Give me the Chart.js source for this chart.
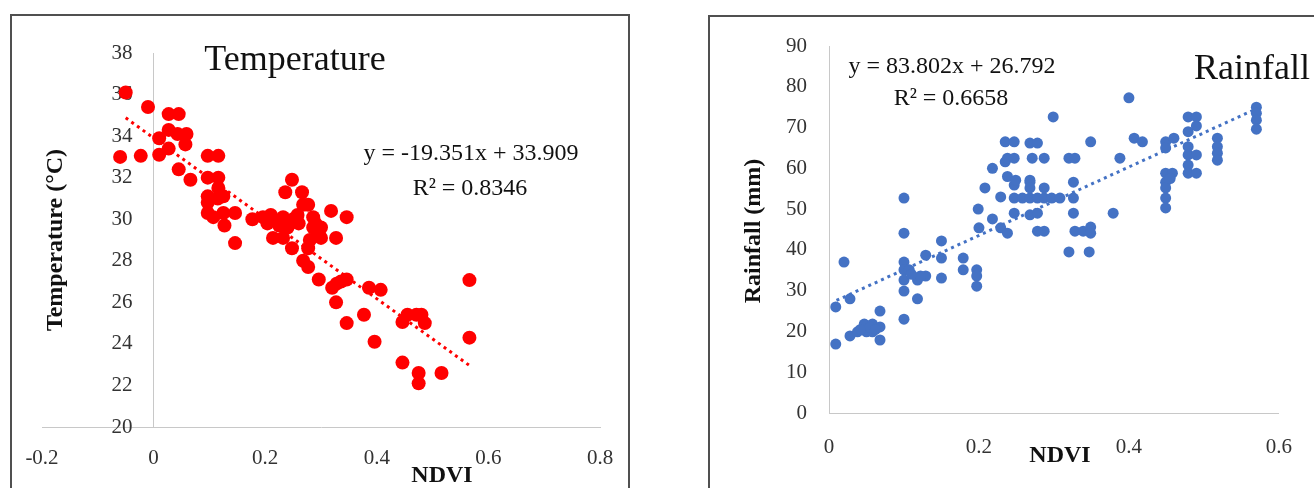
<!DOCTYPE html>
<html>
<head>
<meta charset="utf-8">
<script src="https://cdn.jsdelivr.net/npm/chart.js@4.4.1/dist/chart.umd.min.js"></script>
<style>
body { margin: 0; width: 1314px; height: 488px; background: #fff; overflow: hidden; position: relative; }
.box { position: absolute; border: 2px solid #505050; box-sizing: border-box; }
.wrap { position: absolute; top: 0; height: 488px; }
</style>
</head>
<body>
<div class="box" style="left:10px;top:14px;width:620px;height:500px"></div>
<div class="box" style="left:708px;top:15px;width:640px;height:500px"></div>
<div class="wrap" style="left:0;width:660px"><canvas id="temp-chart"></canvas></div>
<div class="wrap" style="left:700px;width:614px"><canvas id="rain-chart"></canvas></div>
<script>
// NDVI vs temperature (red points)
const tempNdvi = [-0.06, -0.05, -0.01, -0.023, 0.01, 0.01, 0.027, 0.045, 0.027, 0.043,
  0.059, 0.057, 0.027, 0.045, 0.066, 0.097, 0.116, 0.097, 0.116, 0.097,
  0.097, 0.116, 0.125, 0.097, 0.107, 0.125, 0.127, 0.146, 0.146, 0.177,
  0.196, 0.204, 0.218, 0.232, 0.236, 0.248, 0.214, 0.232, 0.266, 0.268,
  0.277, 0.318, 0.346, 0.286, 0.286, 0.248, 0.277, 0.28, 0.30, 0.327,
  0.295, 0.268, 0.277, 0.296, 0.32, 0.328, 0.346, 0.327, 0.566, 0.566,
  0.346, 0.377, 0.386, 0.407, 0.396, 0.446, 0.455, 0.471, 0.48, 0.486,
  0.446, 0.475, 0.475, 0.516, 0.336, 0.258, 0.26, 0.29, 0.30, 0.25,
  0.24, 0.21, 0.225, 0.115];
const tempValues = [33.0, 36.1, 35.4, 33.05, 33.9, 33.1, 35.06, 35.06, 34.3, 34.1,
  34.1, 33.6, 33.4, 32.4, 31.9, 33.05, 33.05, 32.0, 32.0, 31.1,
  30.8, 31.5, 31.1, 30.3, 30.1, 30.3, 29.7, 30.3, 28.85, 30.0,
  30.1, 29.8, 29.95, 30.1, 31.3, 31.9, 29.1, 29.1, 31.3, 30.7,
  30.7, 30.4, 30.1, 30.1, 29.6, 28.6, 28.6, 29.0, 29.1, 29.1,
  29.3, 28.0, 27.7, 27.1, 26.7, 26.9, 27.1, 26.0, 27.07, 24.3,
  25.0, 25.4, 26.7, 26.6, 24.1, 25.05, 25.4, 25.4, 25.4, 25.0,
  23.1, 22.6, 22.1, 22.6, 27.0, 30.2, 29.8, 29.8, 29.6, 30.0,
  29.6, 30.2, 29.7, 31.0];
const tempTrendX = [-0.05, 0.565];
const tempTrendY = [34.88, 22.98];
const tempTicksX = [-0.2, 0, 0.2, 0.4, 0.6, 0.8];
const tempTicksY = [20, 22, 24, 26, 28, 30, 32, 34, 36, 38];

// NDVI vs rainfall (blue points)
const rainNdvi = [0.009, 0.009, 0.02, 0.028, 0.028, 0.038, 0.047, 0.05, 0.058, 0.058,
  0.068, 0.068, 0.068, 0.042, 0.055, 0.062,
  0.1, 0.1, 0.1, 0.1, 0.1, 0.1, 0.1, 0.107, 0.118, 0.118,
  0.129, 0.129, 0.122, 0.11, 0.15, 0.15, 0.15, 0.179, 0.179, 0.197,
  0.197, 0.197, 0.199, 0.2, 0.208, 0.218, 0.218, 0.229, 0.229, 0.238,
  0.235, 0.235, 0.238, 0.247, 0.247, 0.249, 0.268, 0.268, 0.247, 0.268,
  0.278, 0.238, 0.247, 0.271, 0.287, 0.32, 0.328, 0.349, 0.299, 0.388,
  0.4, 0.407, 0.418,
  0.247, 0.258, 0.268, 0.278, 0.287, 0.297, 0.308, 0.326,
  0.268, 0.287, 0.268, 0.278, 0.287, 0.278, 0.326, 0.326, 0.379, 0.32,
  0.347, 0.328, 0.339, 0.349, 0.349,
  0.449, 0.46, 0.449, 0.479, 0.49, 0.479, 0.49, 0.479, 0.479, 0.49,
  0.479, 0.479, 0.49, 0.518, 0.518, 0.518, 0.518, 0.57, 0.57, 0.57,
  0.57, 0.449, 0.458, 0.449, 0.449, 0.449, 0.449, 0.455];
const rainValues = [26.0, 16.9, 37.0, 28.0, 18.9, 19.9, 21.8, 19.9, 21.8, 19.9,
  21.1, 25.0, 17.9, 20.5, 21.0, 20.5,
  52.7, 44.1, 37.0, 35.1, 32.6, 29.9, 23.0, 35.1, 32.6, 28.0,
  38.7, 33.6, 33.6, 34.0, 42.2, 38.0, 33.1, 38.0, 35.1, 35.1,
  33.6, 31.1, 50.0, 45.4, 55.2, 60.0, 47.6, 53.0, 45.4, 44.1,
  66.5, 61.6, 58.0, 55.9, 49.0, 57.1, 48.6, 57.1, 66.5, 66.2,
  66.2, 62.5, 62.5, 62.5, 62.5, 62.5, 62.5, 66.5, 72.6, 62.5,
  77.3, 67.4, 66.5,
  52.7, 52.7, 52.7, 52.7, 52.7, 52.7, 52.7, 52.7,
  56.6, 55.2, 55.2, 49.0, 44.6, 44.6, 56.6, 49.0, 49.0, 39.5,
  39.5, 44.6, 44.6, 45.6, 44.1,
  66.5, 67.4, 65.0, 72.6, 72.6, 69.0, 70.4, 65.3, 63.3, 63.3,
  60.8, 58.8, 58.8, 67.4, 65.3, 63.7, 62.0, 75.0, 73.5, 71.8,
  69.6, 58.8, 58.8, 56.6, 55.2, 52.7, 50.3, 57.5];
const rainTrendX = [0.01, 0.57];
const rainTrendY = [27.6, 74.6];
const rainTicksX = [0, 0.2, 0.4, 0.6];
const rainTicksY = [0, 10, 20, 30, 40, 50, 60, 70, 80, 90];

const pairs = (xs, ys) => xs.map((x, i) => ({ x: x, y: ys[i] }));
const serif = "'Liberation Serif', 'DejaVu Serif', serif";

// draws free text (chart title, equation, axis titles)
const notesPlugin = {
  id: 'notes',
  afterDraw(chart, args, opts) {
    const ctx = chart.ctx;
    (opts.items || []).forEach(it => {
      ctx.save();
      ctx.font = it.font;
      ctx.fillStyle = it.color || '#111';
      ctx.textAlign = 'center';
      ctx.textBaseline = 'alphabetic';
      ctx.translate(it.x, it.y);
      if (it.rotate) ctx.rotate(it.rotate);
      ctx.fillText(it.text, 0, 0);
      ctx.restore();
    });
  }
};

const fixedTicks = list => axis => { axis.ticks = list.map(v => ({ value: v })); };

new Chart(document.getElementById('temp-chart'), {
  type: 'scatter',
  data: {
    datasets: [{
      label: 'Temperature',
      data: pairs(tempNdvi, tempValues),
      backgroundColor: '#ff0000',
      borderWidth: 0,
      pointRadius: 7,
      pointHoverRadius: 7
    }, {
      label: 'Trend',
      data: pairs(tempTrendX, tempTrendY),
      showLine: true,
      pointRadius: 0,
      borderColor: '#ff0000',
      borderWidth: 3,
      borderDash: [3, 4]
    }]
  },
  options: {
    responsive: true,
    maintainAspectRatio: false,
    animation: false,
    layout: { padding: { left: 42, right: 60, top: 53, bottom: 21 } },
    plugins: {
      legend: { display: false },
      tooltip: { enabled: false },
      notes: {
        items: [
          { text: 'Temperature', x: 295, y: 70, font: '36px ' + serif },
          { text: 'y = -19.351x + 33.909', x: 471, y: 160, font: '24px ' + serif },
          { text: 'R\u00b2 = 0.8346', x: 470, y: 195, font: '24px ' + serif },
          { text: 'NDVI', x: 442, y: 482, font: 'bold 24px ' + serif },
          { text: 'Temperature (\u00b0C)', x: 62, y: 240, font: 'bold 24px ' + serif, rotate: -Math.PI / 2 }
        ]
      }
    },
    scales: {
      x: {
        type: 'linear',
        position: 'bottom',
        min: -0.2,
        max: 0.8,
        afterBuildTicks: fixedTicks(tempTicksX),
        afterFit: s => { s.height = 40; },
        grid: { display: false, drawTicks: false },
        border: { display: true, color: '#c8c8c8', width: 1 },
        ticks: { padding: 19, color: '#333', font: { family: serif, size: 21 } }
      },
      y: {
        type: 'linear',
        position: { x: 0 },
        min: 20,
        max: 38,
        afterBuildTicks: fixedTicks(tempTicksY),
        grid: { display: false, drawTicks: false },
        border: { display: true, color: '#c8c8c8', width: 1 },
        // axis crosses at x = 0; keep the labels clear of the line
        ticks: { color: '#333', font: { family: serif, size: 21 }, callback: v => v + '    ' }
      }
    }
  },
  plugins: [notesPlugin]
});

new Chart(document.getElementById('rain-chart'), {
  type: 'scatter',
  data: {
    datasets: [{
      label: 'Rainfall',
      data: pairs(rainNdvi, rainValues),
      backgroundColor: '#4472c4',
      borderWidth: 0,
      pointRadius: 5.5,
      pointHoverRadius: 5.5
    }, {
      label: 'Trend',
      data: pairs(rainTrendX, rainTrendY),
      showLine: true,
      pointRadius: 0,
      borderColor: '#4472c4',
      borderWidth: 3,
      borderDash: [3, 4]
    }]
  },
  options: {
    responsive: true,
    maintainAspectRatio: false,
    animation: false,
    layout: { padding: { left: 69, right: 29, top: 46, bottom: 30 } },
    plugins: {
      legend: { display: false },
      tooltip: { enabled: false },
      notes: {
        items: [
          { text: 'y = 83.802x + 26.792', x: 252, y: 73, font: '24px ' + serif },
          { text: 'R\u00b2 = 0.6658', x: 251, y: 105, font: '24px ' + serif },
          { text: 'Rainfall', x: 552, y: 79, font: '36px ' + serif },
          { text: 'NDVI', x: 360, y: 462, font: 'bold 24px ' + serif },
          { text: 'Rainfall (mm)', x: 60, y: 231, font: 'bold 24px ' + serif, rotate: -Math.PI / 2 }
        ]
      }
    },
    scales: {
      x: {
        type: 'linear',
        position: 'bottom',
        min: 0,
        max: 0.6,
        afterBuildTicks: fixedTicks(rainTicksX),
        afterFit: s => { s.height = 45; },
        grid: { display: false, drawTicks: false },
        border: { display: true, color: '#c8c8c8', width: 1 },
        ticks: { padding: 22, color: '#333', font: { family: serif, size: 21 } }
      },
      y: {
        type: 'linear',
        position: 'left',
        min: 0,
        max: 90,
        afterBuildTicks: fixedTicks(rainTicksY),
        afterFit: s => { s.width = 60; },
        grid: { display: false, drawTicks: false },
        border: { display: true, color: '#c8c8c8', width: 1 },
        ticks: { padding: 22, color: '#333', font: { family: serif, size: 21 } }
      }
    }
  },
  plugins: [notesPlugin]
});
</script>
</body>
</html>
